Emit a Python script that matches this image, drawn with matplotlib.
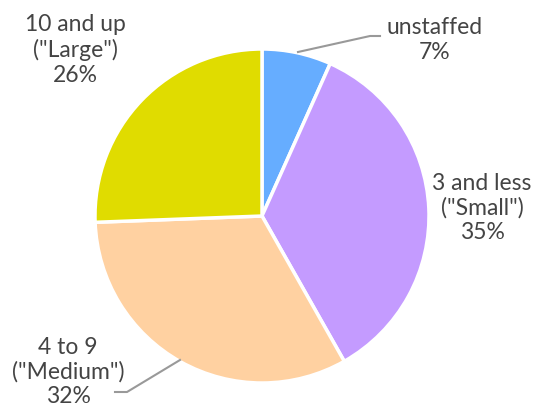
import matplotlib.pyplot as plt

# datos
labels = ['unstaffed', '3 and less\n("Small")', '4 to 9\n("Medium")', '10 and up\n("Large")']
shares = [6.7, 35.1, 32.6, 25.6]
pct_labels = ['7%', '35%', '32%', '26%']
colors = ['#66adff', '#c49bff', '#ffd1a1', '#e0dc00']

plt.rcParams['font.family'] = ['Lato', 'DejaVu Sans']

fig = plt.figure(figsize=(5.5, 4.12), dpi=100)
# centro del pastel en (262, 216) px, radio 167 px
cx, cy, r = 262, 216, 167
ax = fig.add_axes([(cx - r) / 550, (412 - cy - r) / 412, 2 * r / 550, 2 * r / 412])
ax.pie(shares, colors=colors, startangle=90, counterclock=False,
       wedgeprops=dict(edgecolor='white', linewidth=2.5))
ax.set_xlim(-1, 1)
ax.set_ylim(-1, 1)
ax.set_aspect('equal')
ax.axis('off')


def px(x, y):
    return (x - cx) / r, (cy - y) / r


# etiquetas fuera del pastel
label_pos = [(435, 40), (482, 208), (68, 372), (75, 50)]
for lab, pct, (x, y) in zip(labels, pct_labels, label_pos):
    dx, dy = px(x, y)
    ax.text(dx, dy, f'{lab}\n{pct}', ha='center', va='center', fontsize=16.5,
            color='#444444', linespacing=1.2, clip_on=False)

# lineas guia
for pts in [[(298, 52), (370, 36), (380, 36)], [(180, 360), (127, 392), (115, 392)]]:
    xs, ys = zip(*[px(a, b) for a, b in pts])
    ax.plot(xs, ys, color='#999999', linewidth=1.5, clip_on=False)

fig.savefig('out.png', dpi=100)
